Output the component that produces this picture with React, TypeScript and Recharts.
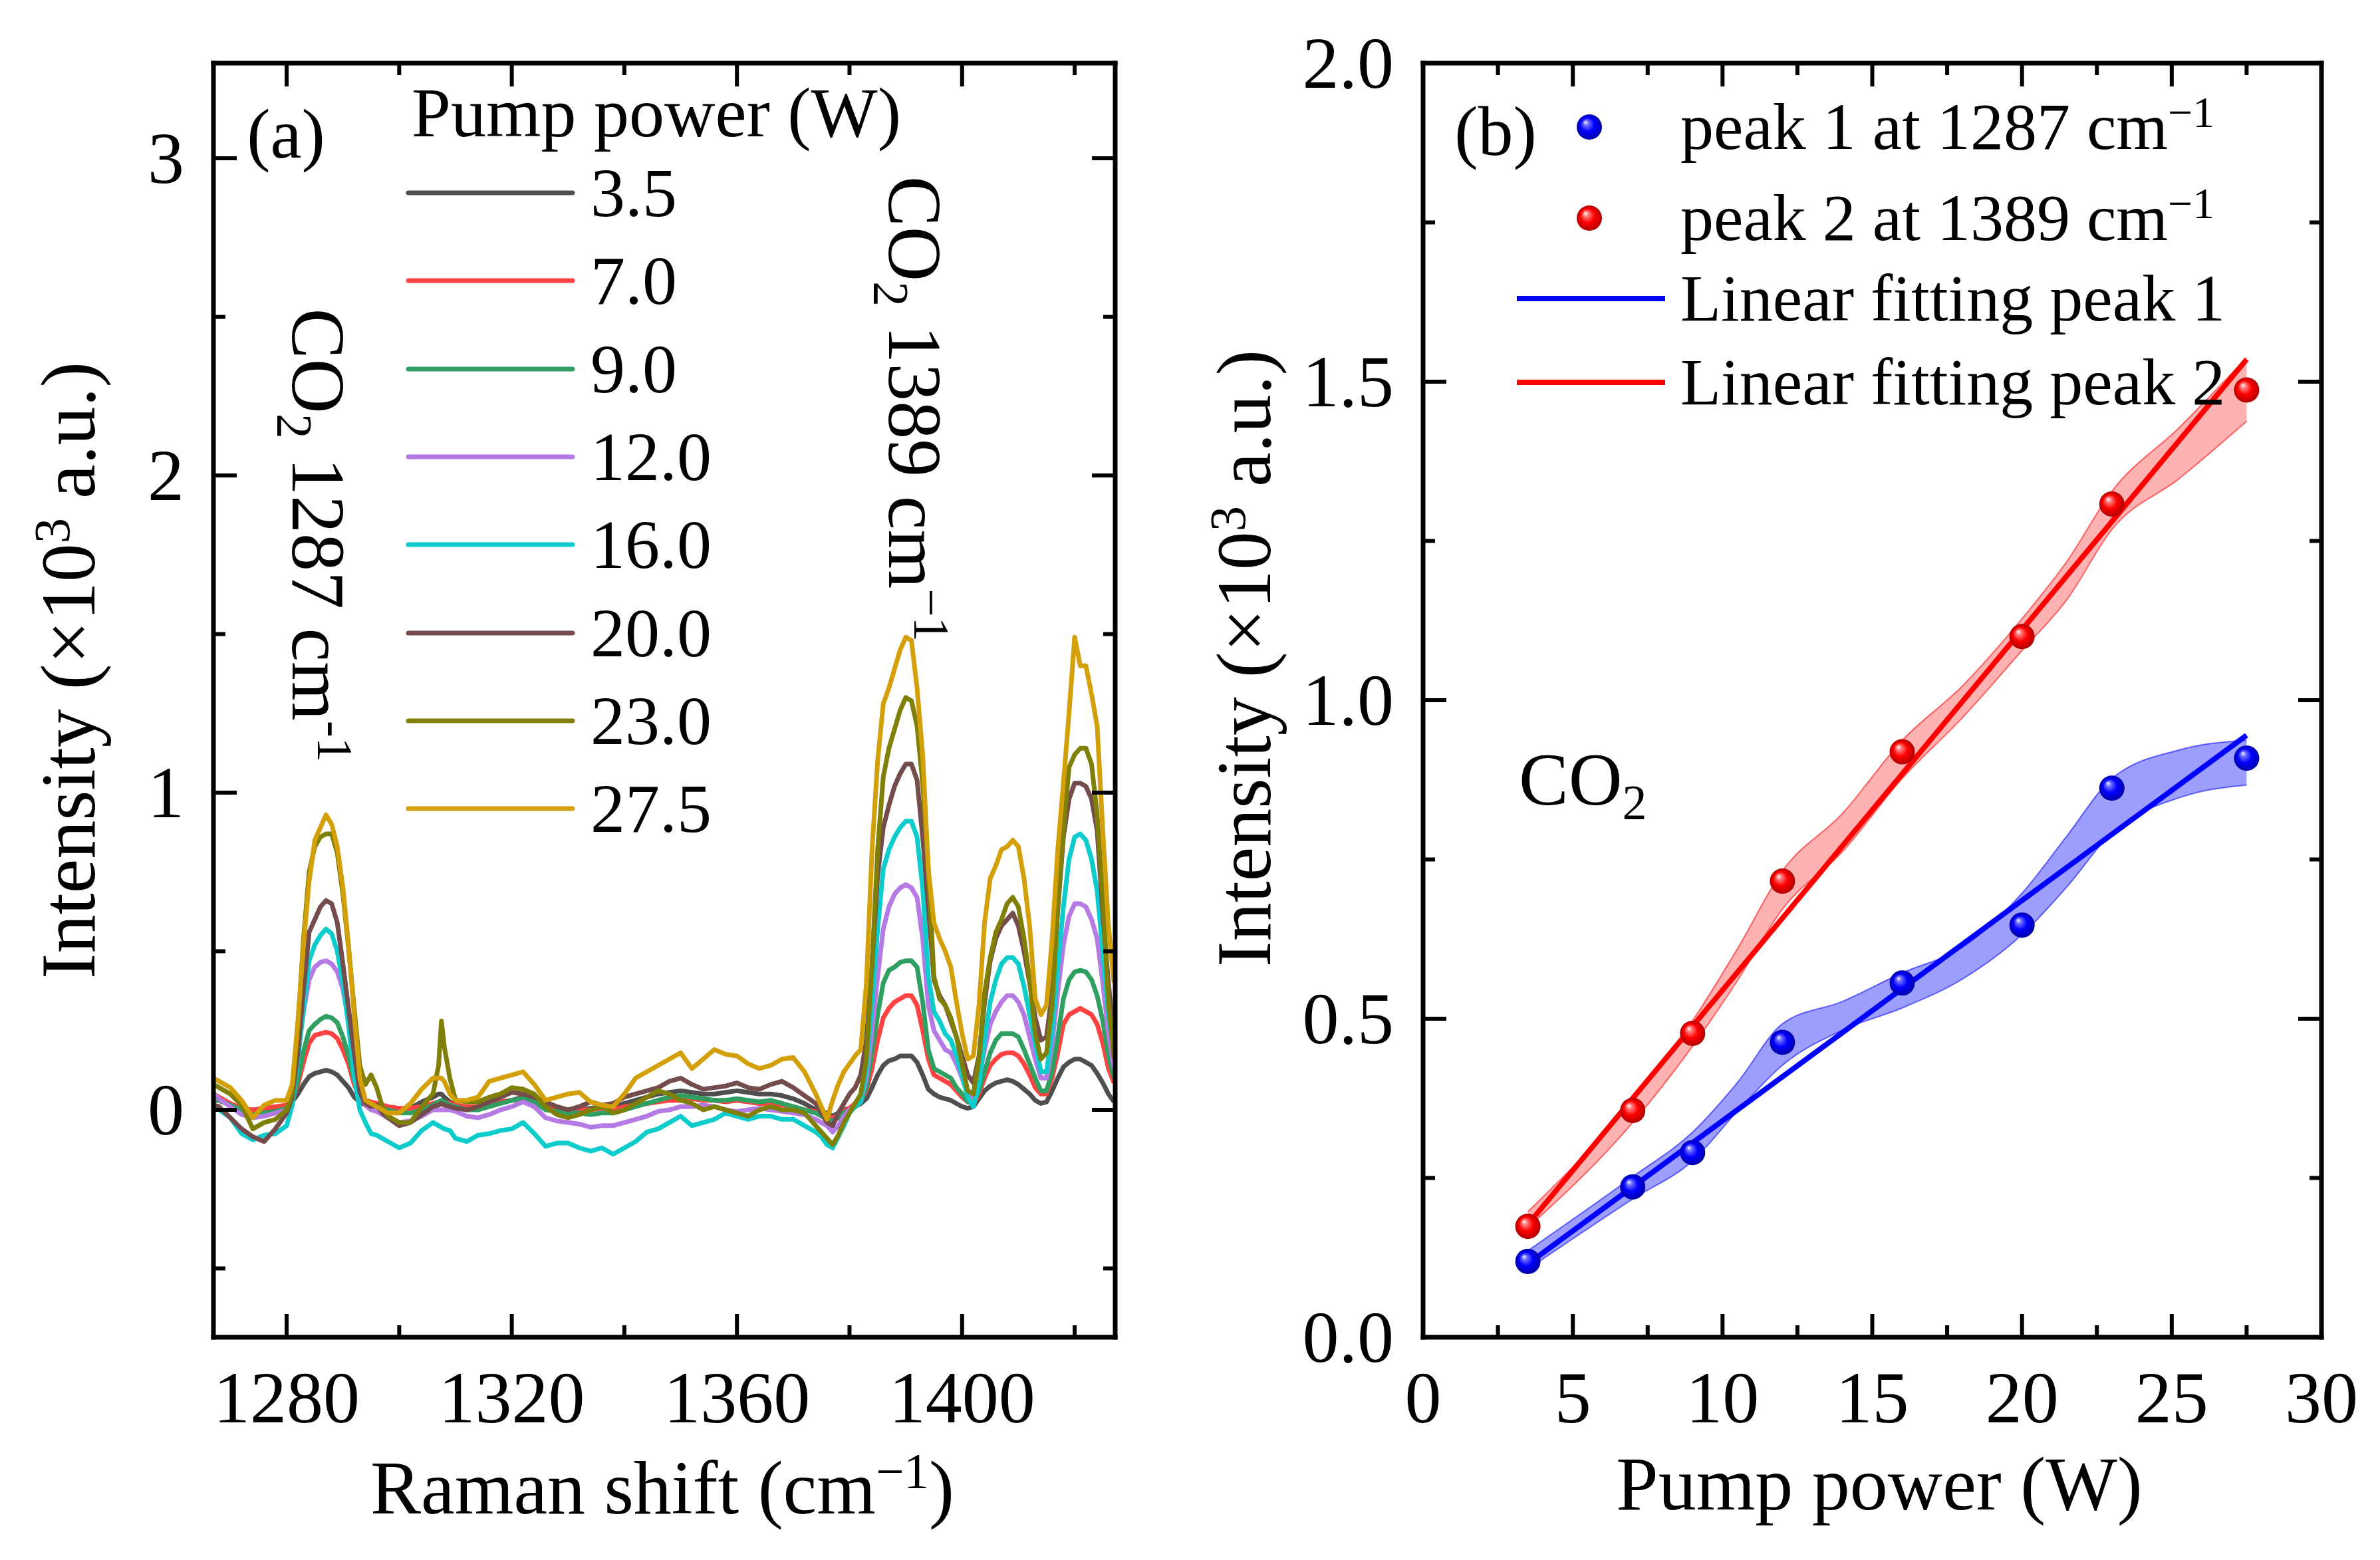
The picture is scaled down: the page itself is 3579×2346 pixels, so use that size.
import React from "react";
import { ComposedChart, Line, XAxis, YAxis, Scatter, Area, Legend } from "recharts";

const FONT = '"Liberation Serif", "Times New Roman", Times, serif';

// ---------- panel (a): Raman spectra at different pump powers ----------
const ramanShift = [
  1267, 1268, 1270, 1272, 1274, 1276, 1278,
  1280, 1281, 1282, 1283, 1284, 1285, 1286, 1287, 1288, 1289, 1290, 1291, 1292, 1293, 1294, 1295, 1296, 1297, 1298,
  1300, 1302, 1304, 1306,
  1307, 1307.5, 1308, 1309, 1310,
  1312, 1314, 1316, 1318, 1320, 1322, 1324, 1326, 1328, 1330, 1332, 1334, 1336,
  1338, 1340, 1342, 1344, 1346, 1348, 1350, 1352, 1354, 1356, 1358, 1360, 1362, 1364, 1366, 1368, 1370, 1372, 1374,
  1375, 1376, 1377, 1378, 1379, 1380, 1381,
  1382, 1383, 1384, 1385, 1386, 1387, 1388, 1389, 1390, 1391, 1392, 1393, 1394, 1395, 1396, 1397, 1398, 1399, 1400,
  1401, 1402, 1403, 1404, 1405, 1406, 1407, 1408, 1409, 1410, 1411, 1412, 1413, 1414, 1415, 1416, 1417, 1418, 1419,
  1420, 1421, 1422, 1423, 1424, 1425, 1426, 1427,
];

const intensity3_5 = [
  0.03, 0.03, 0.015, 0.0, -0.005, 0.0, 0.0,
  0.005, 0.025, 0.05, 0.08, 0.105, 0.115, 0.12, 0.125, 0.12, 0.11, 0.09, 0.07, 0.04, 0.025, 0.015, 0.01, 0.01, 0.005, 0.005,
  0.0, 0.005, 0.025, 0.04,
  0.05, 0.05, 0.04, 0.025, 0.015,
  0.005, 0.005, 0.015, 0.025, 0.03, 0.04, 0.025, 0.01, 0.005, 0.0, 0.0, 0.005, 0.01,
  0.01, 0.02, 0.03, 0.04, 0.05, 0.055, 0.06, 0.055, 0.05, 0.05, 0.055, 0.06, 0.055, 0.05, 0.05, 0.045, 0.035, 0.02, 0.0,
  -0.005, -0.01, -0.02, -0.01, 0.0, 0.005, 0.01,
  0.02, 0.035, 0.07, 0.11, 0.14, 0.155, 0.16, 0.17, 0.17, 0.17, 0.15, 0.11, 0.065, 0.05, 0.04, 0.035, 0.03, 0.02, 0.01,
  0.005, 0.01, 0.035, 0.06, 0.075, 0.085, 0.09, 0.095, 0.09, 0.08, 0.065, 0.05, 0.03, 0.02, 0.025, 0.06, 0.1, 0.135, 0.15,
  0.16, 0.16, 0.15, 0.14, 0.115, 0.085, 0.05, 0.025,
];

const intensity7_0 = [
  0.05, 0.04, 0.02, 0.005, 0.0, 0.005, 0.01,
  0.015, 0.03, 0.08, 0.15, 0.21, 0.235, 0.24, 0.245, 0.24, 0.225, 0.19, 0.145, 0.08, 0.04, 0.03, 0.025, 0.02, 0.015, 0.01,
  0.005, 0.005, 0.01, 0.02,
  0.025, 0.025, 0.025, 0.02, 0.015,
  0.01, 0.01, 0.015, 0.025, 0.03, 0.03, 0.025, 0.01, 0.005, 0.0, 0.0, 0.0, 0.005,
  0.0, 0.01, 0.015, 0.02, 0.025, 0.03, 0.03, 0.035, 0.03, 0.03, 0.025, 0.03, 0.025, 0.02, 0.02, 0.015, 0.01, 0.0, -0.005,
  -0.01, -0.02, -0.025, -0.02, -0.005, 0.005, 0.02,
  0.03, 0.06, 0.13, 0.22, 0.29, 0.32, 0.34, 0.35, 0.36, 0.36, 0.33, 0.25, 0.16, 0.11, 0.1, 0.09, 0.08, 0.06, 0.04,
  0.025, 0.02, 0.05, 0.1, 0.14, 0.16, 0.175, 0.18, 0.18, 0.17, 0.145, 0.11, 0.07, 0.05, 0.05, 0.1, 0.18, 0.27, 0.3,
  0.31, 0.32, 0.31, 0.3, 0.27, 0.21, 0.13, 0.085,
];

const intensity9_0 = [
  0.04, 0.03, 0.015, 0.0, -0.015, -0.01, -0.005,
  0.005, 0.025, 0.095, 0.185, 0.25, 0.27, 0.285, 0.295, 0.29, 0.275, 0.23, 0.17, 0.095, 0.04, 0.025, 0.015, 0.01, 0.005, 0.0,
  -0.01, -0.01, 0.0, 0.015,
  0.025, 0.03, 0.025, 0.015, 0.01,
  0.0, 0.0, 0.01, 0.02, 0.03, 0.035, 0.025, 0.0, -0.005, -0.01, -0.01, -0.015, -0.01,
  -0.01, 0.0, 0.01, 0.02, 0.03, 0.04, 0.045, 0.04, 0.035, 0.03, 0.03, 0.035, 0.03, 0.025, 0.03, 0.02, 0.01, 0.0, -0.01,
  -0.02, -0.03, -0.035, -0.025, -0.01, 0.0, 0.01,
  0.025, 0.07, 0.18, 0.3, 0.4, 0.44, 0.45, 0.465, 0.47, 0.47, 0.45, 0.34, 0.19, 0.13, 0.12, 0.11, 0.1, 0.07, 0.05,
  0.025, 0.025, 0.06, 0.12, 0.18, 0.22, 0.24, 0.24, 0.24, 0.23, 0.19, 0.145, 0.1, 0.06, 0.06, 0.12, 0.23, 0.35, 0.41,
  0.435, 0.44, 0.435, 0.41, 0.36, 0.28, 0.17, 0.1,
];

const intensity12_0 = [
  0.05, 0.035, 0.01, -0.015, -0.025, -0.02, -0.01,
  0.0, 0.03, 0.18, 0.31, 0.41, 0.45, 0.465, 0.47, 0.46, 0.435, 0.38, 0.28, 0.15, 0.05, 0.015, 0.0, -0.005, -0.015, -0.025,
  -0.04, -0.035, -0.02, 0.0,
  0.0, 0.0, 0.0, 0.0, -0.005,
  -0.02, -0.025, -0.015, 0.0, 0.01, 0.025, 0.01, -0.025, -0.035, -0.04, -0.045, -0.055, -0.05,
  -0.05, -0.04, -0.03, -0.02, -0.005, 0.0, 0.01, 0.01, 0.015, 0.01, 0.0, -0.005, 0.0, 0.005, 0.0, -0.005, -0.01, -0.015, -0.03,
  -0.04, -0.05, -0.07, -0.05, -0.02, 0.0, 0.01,
  0.025, 0.1, 0.25, 0.42, 0.57, 0.64, 0.68, 0.7, 0.71, 0.7, 0.67, 0.54, 0.33, 0.25, 0.22, 0.19, 0.18, 0.145, 0.1,
  0.05, 0.04, 0.1, 0.19, 0.27, 0.31, 0.34, 0.36, 0.36, 0.34, 0.3, 0.23, 0.16, 0.1, 0.1, 0.21, 0.37, 0.52, 0.61,
  0.65, 0.65, 0.64, 0.6, 0.54, 0.4, 0.24, 0.13,
];

const intensity16_0 = [
  0.015, 0.0, -0.025, -0.075, -0.095, -0.08, -0.075,
  -0.05, 0.015, 0.16, 0.32, 0.47, 0.52, 0.55, 0.57, 0.555, 0.5, 0.4, 0.265, 0.105, 0.0, -0.04, -0.075, -0.08, -0.09, -0.1,
  -0.12, -0.105, -0.065, -0.04,
  -0.05, -0.055, -0.06, -0.065, -0.09,
  -0.1, -0.08, -0.075, -0.065, -0.06, -0.04, -0.075, -0.115, -0.105, -0.105, -0.12, -0.13, -0.12,
  -0.14, -0.12, -0.1, -0.07, -0.06, -0.04, -0.02, -0.05, -0.04, -0.03, -0.01, -0.02, -0.03, -0.02, -0.02, -0.03, -0.03, -0.05, -0.07,
  -0.085, -0.11, -0.12, -0.085, -0.05, -0.01, 0.01,
  0.025, 0.13, 0.34, 0.57, 0.76, 0.82, 0.86, 0.89, 0.91, 0.91, 0.86, 0.7, 0.42, 0.31, 0.28, 0.24, 0.22, 0.17, 0.11,
  0.04, 0.01, 0.085, 0.22, 0.34, 0.41, 0.46, 0.48, 0.48, 0.46, 0.39, 0.3, 0.21, 0.12, 0.12, 0.25, 0.45, 0.64, 0.79,
  0.86, 0.87, 0.85, 0.79, 0.69, 0.5, 0.3, 0.18,
];

const intensity20_0 = [
  0.015, 0.01, -0.025, -0.06, -0.085, -0.1, -0.06,
  -0.01, 0.04, 0.18, 0.38, 0.56, 0.6, 0.64, 0.66, 0.65, 0.59, 0.46, 0.32, 0.18, 0.055, 0.02, 0.01, 0.015, -0.01, -0.025,
  -0.05, -0.04, -0.015, 0.01,
  0.015, 0.02, 0.015, 0.01, 0.005,
  0.0, 0.01, 0.025, 0.04, 0.055, 0.05, 0.04, 0.025, 0.01, 0.0, 0.01, 0.025, 0.015,
  0.02, 0.04, 0.05, 0.06, 0.07, 0.09, 0.1, 0.08, 0.065, 0.07, 0.075, 0.085, 0.07, 0.065, 0.08, 0.09, 0.07, 0.045, 0.02,
  -0.01, -0.04, -0.05, -0.01, 0.02, 0.05, 0.07,
  0.11, 0.22, 0.46, 0.74, 0.89, 0.96, 1.02, 1.06, 1.09, 1.09, 1.04, 0.86, 0.64, 0.41, 0.36, 0.33, 0.28, 0.23, 0.17,
  0.11, 0.085, 0.17, 0.34, 0.47, 0.54, 0.58, 0.6, 0.62, 0.58, 0.5, 0.4, 0.29, 0.22, 0.23, 0.37, 0.63, 0.86, 0.98,
  1.03, 1.03, 1.02, 0.98, 0.88, 0.62, 0.4, 0.22,
];

const intensity23_0 = [
  0.08, 0.07, 0.05, 0.015, -0.06, -0.04, -0.03,
  0.0, 0.055, 0.26, 0.54, 0.75, 0.83, 0.86, 0.87, 0.87, 0.81, 0.68, 0.51, 0.32, 0.14, 0.08, 0.11, 0.07, 0.01, -0.02,
  -0.04, -0.04, 0.01, 0.05,
  0.14, 0.28, 0.2, 0.1, 0.03,
  0.025, 0.025, 0.04, 0.05, 0.07, 0.065, 0.05, 0.01, -0.015, -0.025, -0.015, 0.0, 0.01,
  -0.01, 0.0, 0.02, 0.04, 0.06, 0.05, 0.03, 0.02, 0.0, 0.01, 0.0, -0.01, -0.02, 0.0, 0.01, 0.0, 0.0, -0.01, -0.05,
  -0.07, -0.09, -0.11, -0.08, -0.04, -0.01, 0.02,
  0.05, 0.16, 0.46, 0.82, 1.05, 1.14, 1.2, 1.26, 1.3, 1.29, 1.21, 1.03, 0.76, 0.42, 0.35, 0.33, 0.29, 0.23, 0.145,
  0.06, 0.05, 0.16, 0.37, 0.48, 0.56, 0.6, 0.65, 0.67, 0.64, 0.54, 0.41, 0.24, 0.16, 0.18, 0.33, 0.64, 0.88, 1.08,
  1.12, 1.14, 1.14, 1.09, 0.93, 0.67, 0.34, 0.16,
];

const intensity27_5 = [
  0.1, 0.09, 0.07, 0.03, -0.025, 0.015, 0.03,
  0.03, 0.08, 0.28, 0.52, 0.72, 0.85, 0.89, 0.93, 0.9, 0.83, 0.7, 0.52, 0.3, 0.1, 0.03, 0.02, 0.01, 0.0, -0.01,
  -0.01, 0.02, 0.065, 0.1,
  0.1, 0.1, 0.09, 0.05, 0.03,
  0.03, 0.04, 0.09, 0.1, 0.11, 0.12, 0.08, 0.03, 0.04, 0.05, 0.055, 0.025, 0.015,
  0.01, 0.05, 0.1, 0.12, 0.14, 0.16, 0.18, 0.13, 0.16, 0.19, 0.175, 0.17, 0.145, 0.13, 0.14, 0.16, 0.165, 0.12, 0.05,
  0.01, -0.03, 0.03, 0.08, 0.12, 0.145, 0.17,
  0.19, 0.4, 0.82, 1.1, 1.28, 1.33, 1.39, 1.45, 1.49, 1.48, 1.33, 1.12, 0.76, 0.59, 0.54, 0.5, 0.45, 0.34, 0.24,
  0.16, 0.17, 0.33, 0.59, 0.73, 0.77, 0.82, 0.83, 0.85, 0.83, 0.73, 0.58, 0.35, 0.3, 0.33, 0.54, 0.82, 1.03, 1.25,
  1.49, 1.4, 1.4, 1.31, 1.21, 0.88, 0.58, 0.4,
];

const pumpLabels = ["3.5", "7.0", "9.0", "12.0", "16.0", "20.0", "23.0", "27.5"];
const pumpColors = ["#4f4f4f", "#ff4242", "#30a062", "#b57ae4", "#0ccccc", "#744c4c", "#808008", "#d4a00a"];
const spectra = [
  intensity3_5, intensity7_0, intensity9_0, intensity12_0,
  intensity16_0, intensity20_0, intensity23_0, intensity27_5,
];

const spectraRows = ramanShift.map((shift, i) => {
  const row: Record<string, number> = { shift };
  spectra.forEach((s, k) => {
    row[`p${k}`] = s[i];
  });
  return row;
});

const shiftTicks = [1280, 1300, 1320, 1340, 1360, 1380, 1400, 1420];
const shiftMajor = [1280, 1320, 1360, 1400];
const spectraYTicks = [-0.5, 0, 0.5, 1, 1.5, 2, 2.5, 3];
const spectraYMajor = [0, 1, 2, 3];

// ---------- panel (b): peak intensity vs pump power ----------
const pumpPower = [3.5, 7, 9, 12, 16, 20, 23, 27.5];
const peak1Intensity = [0.119, 0.236, 0.29, 0.463, 0.556, 0.647, 0.862, 0.909];
const peak2Intensity = [0.174, 0.356, 0.477, 0.716, 0.919, 1.1, 1.308, 1.487];

const fitPower = [3.5, 27.5];
const fitPeak1 = [0.115, 0.945];
const fitPeak2 = [0.177, 1.535];

const bandPower = [3.5, 7, 9, 10.5, 12, 14, 16, 18, 20, 21.5, 23, 25.25, 27.5];
const band1Low = [0.107, 0.217, 0.277, 0.355, 0.427, 0.482, 0.517, 0.562, 0.632, 0.707, 0.792, 0.847, 0.867];
const band1High = [0.136, 0.252, 0.322, 0.4, 0.492, 0.527, 0.572, 0.612, 0.697, 0.787, 0.877, 0.922, 0.937];
const band2Low = [0.172, 0.337, 0.457, 0.56, 0.672, 0.762, 0.877, 0.972, 1.078, 1.158, 1.268, 1.348, 1.438];
const band2High = [0.197, 0.372, 0.497, 0.61, 0.732, 0.822, 0.937, 1.022, 1.128, 1.218, 1.328, 1.428, 1.538];

const powerTicks = [0, 2.5, 5, 7.5, 10, 12.5, 15, 17.5, 20, 22.5, 25, 27.5, 30];
const powerMajor = [0, 5, 10, 15, 20, 25, 30];
const peakYTicks = [0, 0.25, 0.5, 0.75, 1, 1.25, 1.5, 1.75, 2];
const peakYMajor = [0, 0.5, 1, 1.5, 2];

const peak1Points = pumpPower.map((power, i) => ({ power, value: peak1Intensity[i] }));
const peak2Points = pumpPower.map((power, i) => ({ power, value: peak2Intensity[i] }));
const fit1Points = fitPower.map((power, i) => ({ power, value: fitPeak1[i] }));
const fit2Points = fitPower.map((power, i) => ({ power, value: fitPeak2[i] }));
const band1Points = bandPower.map((power, i) => ({ power, range: [band1Low[i], band1High[i]] }));
const band2Points = bandPower.map((power, i) => ({ power, range: [band2Low[i], band2High[i]] }));

const BLUE = "#0000ff";
const RED = "#ff0000";

// ---------- shared bits ----------
const MAJOR_LEN = 35;
const MINOR_LEN = 18;
const TICK_FONT = 110;
const axisLine = { stroke: "#000", strokeWidth: 7, strokeLinecap: "square" as const };

type Side = "bottom" | "top" | "left" | "right";

// ticks point inward; only major ticks get a label
function inwardTick(side: Side, majors: number[], format?: (v: number) => string) {
  return (props: any) => {
    const { x, y, payload } = props;
    const v = Number(payload.value);
    const major = majors.some((m) => Math.abs(m - v) < 1e-9);
    const len = major ? MAJOR_LEN : MINOR_LEN;
    let x2 = x;
    let y2 = y;
    if (side === "bottom") y2 = y - len;
    if (side === "top") y2 = y + len;
    if (side === "left") x2 = x + len;
    if (side === "right") x2 = x - len;
    let label = null;
    if (format && major) {
      label =
        side === "bottom" ? (
          <text x={x} y={y + 128} textAnchor="middle" fontSize={TICK_FONT} fontFamily={FONT} fill="#000">
            {format(v)}
          </text>
        ) : (
          <text x={x - 44} y={y + 37} textAnchor="end" fontSize={TICK_FONT} fontFamily={FONT} fill="#000">
            {format(v)}
          </text>
        );
    }
    return (
      <g>
        <line x1={x} y1={y} x2={x2} y2={y2} stroke="#000" strokeWidth={6} />
        {label}
      </g>
    );
  };
}

const Sup = ({ children }: { children: React.ReactNode }) => (
  <span style={{ position: "relative", top: "-0.5em", fontSize: "0.66em" }}>{children}</span>
);
const Sub = ({ children }: { children: React.ReactNode }) => (
  <span style={{ position: "relative", top: "0.3em", fontSize: "0.66em" }}>{children}</span>
);

type TxtProps = {
  x: number;
  y: number;
  size: number;
  rotate?: number;
  left?: boolean;
  children: React.ReactNode;
};

const Txt = ({ x, y, size, rotate = 0, left = false, children }: TxtProps) => (
  <div
    style={{
      position: "absolute",
      left: x,
      top: y,
      fontSize: size,
      lineHeight: 1,
      whiteSpace: "nowrap",
      fontFamily: FONT,
      color: "#000",
      transform: `translate(${left ? "0" : "-50%"}, -50%) rotate(${rotate}deg)`,
    }}
  >
    {children}
  </div>
);

const Sphere = ({ cx, cy, color, light, dark, id }: any) => (
  <g>
    <defs>
      <radialGradient id={id} cx="0.5" cy="0.5" r="0.5" fx="0.34" fy="0.3">
        <stop offset="0" stopColor="#ffffff" />
        <stop offset="0.2" stopColor={light} />
        <stop offset="0.55" stopColor={color} />
        <stop offset="1" stopColor={dark} />
      </radialGradient>
    </defs>
    <circle cx={cx} cy={cy} r={19} fill={`url(#${id})`} />
  </g>
);

const blueSphere = (p: any) => <Sphere cx={p.cx} cy={p.cy} color={BLUE} light="#7070ff" dark="#0000a8" id="sph-blue" />;
const redSphere = (p: any) => <Sphere cx={p.cx} cy={p.cy} color={RED} light="#ff8080" dark="#b00000" id="sph-red" />;

// ---------- legends ----------
const SpectraLegend = () => (
  <div style={{ position: "relative", width: 820, height: 1200, fontFamily: FONT, color: "#000" }}>
    <div style={{ position: "absolute", left: 19, top: 70, transform: "translateY(-50%)", fontSize: 106, lineHeight: 1, whiteSpace: "nowrap" }}>
      Pump power (W)
    </div>
    {pumpLabels.map((lab, i) => (
      <div key={lab} style={{ position: "absolute", left: 0, top: 190 + 132.3 * i, transform: "translateY(-50%)", display: "flex", alignItems: "center" }}>
        <svg width={275} height={20} style={{ display: "block" }}>
          <line x1={14} x2={261} y1={10} y2={10} stroke={pumpColors[i]} strokeWidth={7} strokeLinecap="round" />
        </svg>
        <span style={{ marginLeft: 13, fontSize: 104, lineHeight: 1 }}>{lab}</span>
      </div>
    ))}
  </div>
);

const peakLegendRows = [
  { kind: "dot", color: BLUE, text: <>peak 1 at 1287 cm<Sup>−1</Sup></> },
  { kind: "dot", color: RED, text: <>peak 2 at 1389 cm<Sup>−1</Sup></> },
  { kind: "line", color: BLUE, text: <>Linear fitting peak 1</> },
  { kind: "line", color: RED, text: <>Linear fitting peak 2</> },
];
const peakLegendY = [91, 228, 349, 475];

const PeakLegend = () => (
  <div style={{ position: "relative", width: 1200, height: 560, fontFamily: FONT, color: "#000" }}>
    {peakLegendRows.map((row, i) => (
      <div key={i} style={{ position: "absolute", left: 0, top: peakLegendY[i], transform: "translateY(-50%)", display: "flex", alignItems: "center" }}>
        <svg width={260} height={50} style={{ display: "block" }}>
          {row.kind === "dot" ? (
            row.color === BLUE ? blueSphere({ cx: 130, cy: 25 }) : redSphere({ cx: 130, cy: 25 })
          ) : (
            <line x1={21} x2={244} y1={25} y2={25} stroke={row.color} strokeWidth={8} />
          )}
        </svg>
        <span style={{ marginLeft: 7, fontSize: 100, lineHeight: 1 }}>{row.text}</span>
      </div>
    ))}
  </div>
);

// ---------- charts ----------
const SpectraChart = () => (
  <ComposedChart
    width={1760}
    height={2346}
    data={spectraRows}
    margin={{ top: 94, right: 82, bottom: 135, left: 121 }}
  >
    <XAxis
      xAxisId="b"
      dataKey="shift"
      type="number"
      domain={[1267, 1427.2]}
      ticks={shiftTicks}
      interval={0}
      allowDataOverflow
      height={200}
      tickSize={0}
      tickMargin={0}
      tickLine={false}
      axisLine={axisLine}
      tick={inwardTick("bottom", shiftMajor, (v) => String(v))}
    />
    <XAxis
      xAxisId="t"
      orientation="top"
      dataKey="shift"
      type="number"
      domain={[1267, 1427.2]}
      ticks={shiftTicks}
      interval={0}
      allowDataOverflow
      height={1}
      tickSize={0}
      tickMargin={0}
      tickLine={false}
      axisLine={axisLine}
      tick={inwardTick("top", shiftMajor)}
    />
    <YAxis
      yAxisId="l"
      type="number"
      domain={[-0.717, 3.3]}
      ticks={spectraYTicks}
      interval={0}
      allowDataOverflow
      width={200}
      tickSize={0}
      tickMargin={0}
      tickLine={false}
      axisLine={axisLine}
      tick={inwardTick("left", spectraYMajor, (v) => String(v))}
    />
    <YAxis
      yAxisId="r"
      orientation="right"
      type="number"
      domain={[-0.717, 3.3]}
      ticks={spectraYTicks}
      interval={0}
      allowDataOverflow
      width={1}
      tickSize={0}
      tickMargin={0}
      tickLine={false}
      axisLine={axisLine}
      tick={inwardTick("right", spectraYMajor)}
    />
    {pumpLabels.map((lab, k) => (
      <Line
        key={lab}
        xAxisId="b"
        yAxisId="l"
        type="linear"
        dataKey={`p${k}`}
        name={lab}
        stroke={pumpColors[k]}
        strokeWidth={7}
        strokeLinejoin="round"
        dot={false}
        activeDot={false}
        isAnimationActive={false}
      />
    ))}
    <Legend
      layout="vertical"
      align="center"
      verticalAlign="middle"
      content={() => <SpectraLegend />}
      wrapperStyle={{ left: 600, top: 100, width: 820, height: 1200 }}
    />
  </ComposedChart>
);

const PeakChart = () => (
  <ComposedChart width={1779} height={2346} margin={{ top: 94, right: 87, bottom: 135, left: 120 }}>
    <XAxis
      xAxisId="b"
      dataKey="power"
      type="number"
      domain={[0, 30]}
      ticks={powerTicks}
      interval={0}
      allowDataOverflow
      height={200}
      tickSize={0}
      tickMargin={0}
      tickLine={false}
      axisLine={axisLine}
      tick={inwardTick("bottom", powerMajor, (v) => String(v))}
    />
    <XAxis
      xAxisId="t"
      orientation="top"
      dataKey="power"
      type="number"
      domain={[0, 30]}
      ticks={powerTicks}
      interval={0}
      allowDataOverflow
      height={1}
      tickSize={0}
      tickMargin={0}
      tickLine={false}
      axisLine={axisLine}
      tick={inwardTick("top", powerMajor)}
    />
    <YAxis
      yAxisId="l"
      type="number"
      domain={[0, 2]}
      ticks={peakYTicks}
      interval={0}
      allowDataOverflow
      width={220}
      tickSize={0}
      tickMargin={0}
      tickLine={false}
      axisLine={axisLine}
      tick={inwardTick("left", peakYMajor, (v) => v.toFixed(1))}
    />
    <YAxis
      yAxisId="r"
      orientation="right"
      type="number"
      domain={[0, 2]}
      ticks={peakYTicks}
      interval={0}
      allowDataOverflow
      width={1}
      tickSize={0}
      tickMargin={0}
      tickLine={false}
      axisLine={axisLine}
      tick={inwardTick("right", peakYMajor)}
    />
    <Area
      xAxisId="b"
      yAxisId="l"
      data={band1Points}
      dataKey="range"
      type="monotone"
      fill={BLUE}
      fillOpacity={0.38}
      stroke={BLUE}
      strokeOpacity={0.55}
      strokeWidth={2}
      isAnimationActive={false}
      activeDot={false}
    />
    <Area
      xAxisId="b"
      yAxisId="l"
      data={band2Points}
      dataKey="range"
      type="monotone"
      fill={RED}
      fillOpacity={0.3}
      stroke={RED}
      strokeOpacity={0.55}
      strokeWidth={2}
      isAnimationActive={false}
      activeDot={false}
    />
    <Line
      xAxisId="b"
      yAxisId="l"
      data={fit1Points}
      dataKey="value"
      type="linear"
      stroke={BLUE}
      strokeWidth={8}
      dot={false}
      activeDot={false}
      isAnimationActive={false}
    />
    <Line
      xAxisId="b"
      yAxisId="l"
      data={fit2Points}
      dataKey="value"
      type="linear"
      stroke={RED}
      strokeWidth={8}
      dot={false}
      activeDot={false}
      isAnimationActive={false}
    />
    <Scatter xAxisId="b" yAxisId="l" data={peak1Points} dataKey="value" shape={blueSphere} isAnimationActive={false} />
    <Scatter xAxisId="b" yAxisId="l" data={peak2Points} dataKey="value" shape={redSphere} isAnimationActive={false} />
    <Legend
      layout="vertical"
      align="center"
      verticalAlign="middle"
      content={() => <PeakLegend />}
      wrapperStyle={{ left: 460, top: 100, width: 1200, height: 560 }}
    />
  </ComposedChart>
);

export default function App() {
  return (
    <div
      style={{
        position: "absolute",
        left: 0,
        top: 0,
        width: 3579,
        height: 2346,
        background: "#fff",
        overflow: "hidden",
        fontFamily: FONT,
      }}
    >
      <div style={{ position: "absolute", left: 0, top: 0 }}>
        <SpectraChart />
      </div>
      <div style={{ position: "absolute", left: 1800, top: 0 }}>
        <PeakChart />
      </div>

      <Txt x={430} y={202} size={106}>(a)</Txt>
      <Txt x={2249} y={198} size={106}>(b)</Txt>

      <Txt x={478} y={805} size={114} rotate={90}>
        CO<Sub>2</Sub> 1287 cm<Sup>-1</Sup>
      </Txt>
      <Txt x={1375} y={615} size={114} rotate={90}>
        CO<Sub>2</Sub> 1389 cm<Sup>−1</Sup>
      </Txt>
      <Txt x={2284} y={1172} size={112} left>
        CO<Sub>2</Sub>
      </Txt>

      <Txt x={103} y={1008} size={116} rotate={-90}>
        Intensity (×10<Sup>3</Sup> a.u.)
      </Txt>
      <Txt x={1871} y={990} size={116} rotate={-90}>
        Intensity (×10<Sup>3</Sup> a.u.)
      </Txt>
      <Txt x={996} y={2238} size={114}>
        Raman shift (cm<Sup>−1</Sup>)
      </Txt>
      <Txt x={2826} y={2232} size={114}>
        Pump power (W)
      </Txt>
    </div>
  );
}
